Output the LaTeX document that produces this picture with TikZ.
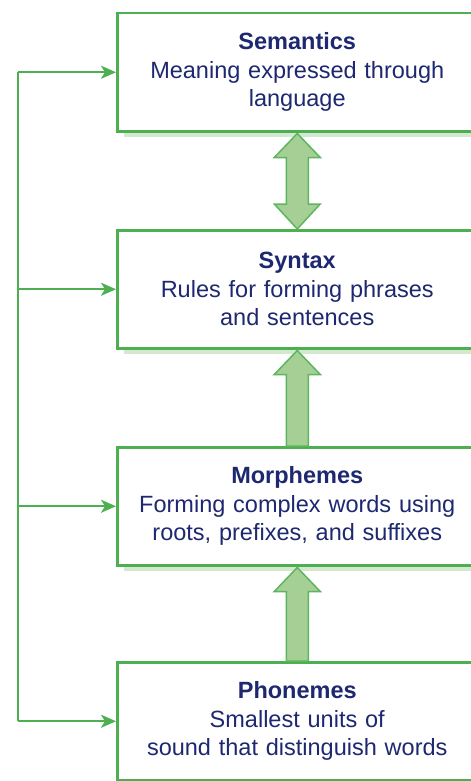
\documentclass[tikz,border=0pt]{standalone}
\usepackage{fontspec}
\setmainfont{Liberation Sans}
\usetikzlibrary{shadows,arrows.meta,calc}
\definecolor{boxgreen}{HTML}{4CAF50}
\definecolor{shadowgreen}{HTML}{D3E8CF}
\definecolor{arrowfill}{HTML}{A5CF95}
\definecolor{arrowline}{HTML}{5DB65F}
\definecolor{navy}{HTML}{1D2870}
\tikzset{
  levelbox/.style={draw=boxgreen, line width=2.5bp, fill=white, anchor=north west,
    minimum width=360bp, minimum height=118bp, inner sep=0pt,
    text width=340bp, align=center, text=navy,
    font=\fontsize{23.5bp}{28.5bp}\selectfont,
    drop shadow={shadow xshift=7bp, shadow yshift=-6bp, fill=shadowgreen, opacity=1}},
  fatarrow/.style={draw=arrowline, line width=1.5bp, fill=arrowfill, line join=miter},
  link/.style={draw=boxgreen, line width=2.2bp},
  linkarrow/.style={link, -{Stealth[length=15bp,width=13bp,inset=4bp]}}
}
\begin{document}
\begin{tikzpicture}[x=1bp,y=-1bp]
\useasboundingbox (0,0) rectangle (471,781);
\node[levelbox] (sem) at (116,12) {\textbf{Semantics}\\Meaning expressed through\\language};
\node[levelbox] (syn) at (116,229) {\textbf{Syntax}\\Rules for forming phrases\\and sentences};
\node[levelbox] (mor) at (116,446) {\textbf{Morphemes}\\Forming complex words using\\roots, prefixes, and suffixes};
\node[levelbox] (pho) at (116,661) {\textbf{Phonemes}\\Smallest units of\\sound that distinguish words};
% double arrow between semantics and syntax
\draw[fatarrow] ($(sem.south)+(0,1)$) -- ++(23,24) -- ++(-12,0) -- ($(syn.north)+(11,-25)$)
  -- ++(12,0) -- (syn.north) -- ++(-23,-25) -- ++(12,0) -- ($(sem.south)+(-11,25)$)
  -- ++(-12,0) -- cycle;
% up arrow morphemes -> syntax
\draw[fatarrow] ($(syn.south)+(0,1)$) -- ++(23,24) -- ++(-12,0) -- ($(mor.north)+(11,0)$)
  -- ($(mor.north)+(-11,0)$) -- ($(syn.south)+(-11,25)$) -- ++(-12,0) -- cycle;
% up arrow phonemes -> morphemes
\draw[fatarrow] ($(mor.south)+(0,1)$) -- ++(23,24) -- ++(-12,0) -- ($(pho.north)+(11,0)$)
  -- ($(pho.north)+(-11,0)$) -- ($(mor.south)+(-11,25)$) -- ++(-12,0) -- cycle;
% feedback rail
\coordinate (rail) at (18,0);
\draw[link] (rail |- sem.west) -- (rail |- pho.west);
\draw[linkarrow] (rail |- sem.west) -- (sem.west);
\draw[linkarrow] (rail |- syn.west) -- (syn.west);
\draw[linkarrow] (rail |- mor.west) -- (mor.west);
\draw[linkarrow] (rail |- pho.west) -- (pho.west);
\end{tikzpicture}
\end{document}
